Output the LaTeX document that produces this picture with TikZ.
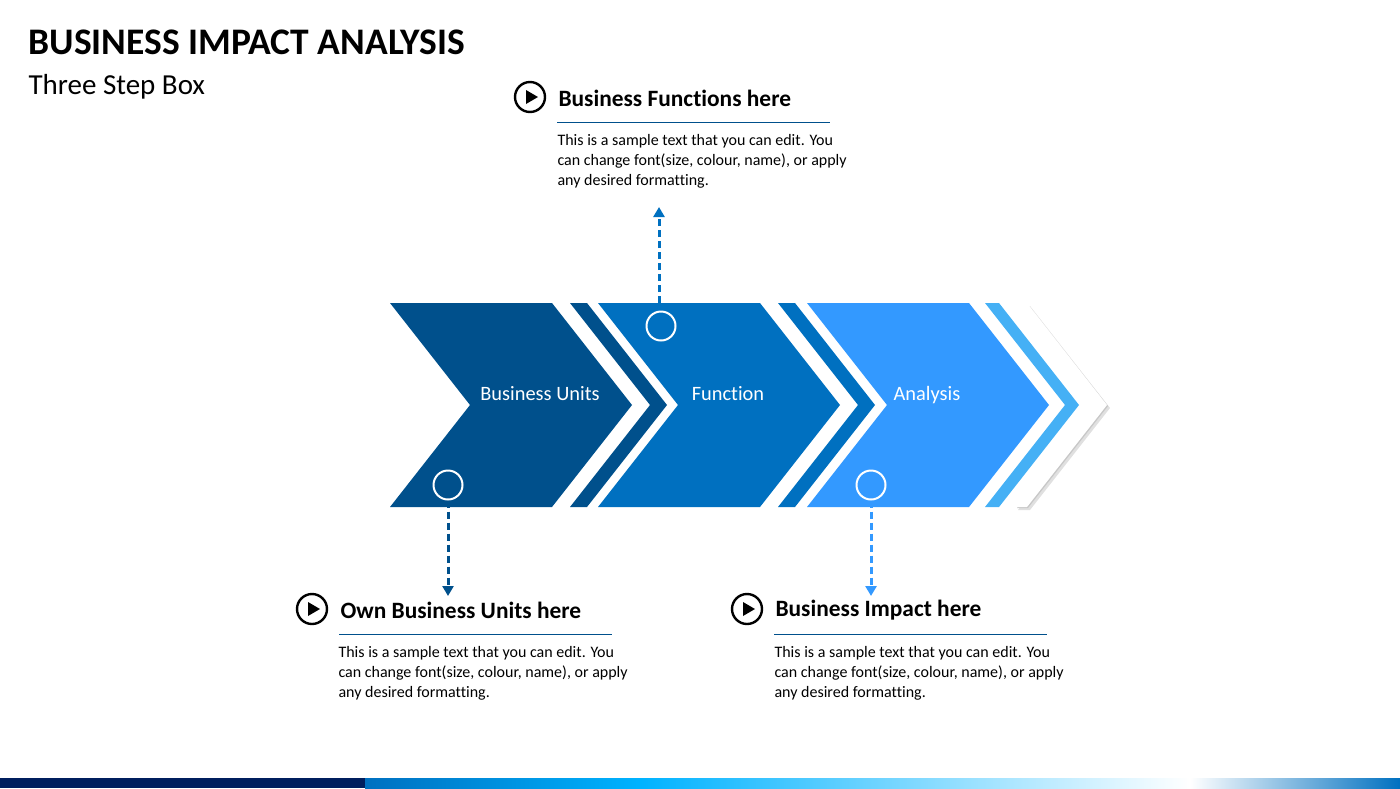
\documentclass[tikz,border=0pt]{standalone}
\usepackage{fontspec}
\setmainfont[RawFeature=-liga]{Carlito}
\usetikzlibrary{arrows.meta}
\definecolor{cA}{HTML}{00508C}
\definecolor{cB}{HTML}{0070C0}
\definecolor{cC}{HTML}{3399FF}
\definecolor{cD}{HTML}{45B0F5}
\definecolor{navy}{HTML}{001E5E}
\tikzset{
  lab/.style={text=white,anchor=base,font=\fontsize{20.4}{22}\selectfont},
  head/.style={anchor=west,font=\bfseries\fontsize{23.4}{26}\selectfont},
  body/.style={anchor=north west,align=left,font=\fontsize{16}{19.8}\selectfont},
  ring/.style={circle,draw=white,line width=2pt,minimum size=29pt,inner sep=0pt},
  conn/.style={dashed,dash pattern=on 7pt off 4pt,line width=3pt,-{Triangle[length=10pt,width=11pt]}},
}
\newcommand{\chev}[3]{\fill[#3] (#1,303)--(#1+162,303)--(#1+242,405)--(#1+162,507)--(#1,507)--(#1+80,405)--cycle;}
\newcommand{\stripe}[3]{\fill[#3] (#1,303)--(#1+#2,303)--(#1+#2+80,405)--(#1+#2,507)--(#1,507)--(#1+80,405)--cycle;}
\newcommand{\playicon}[3]{\node[circle,draw,line width=2.4pt,minimum size=30pt,inner sep=0pt] (#3) at (#1,#2) {};
  \fill (#1-4,#2-7)--(#1+8,#2)--(#1-4,#2+7)--cycle;}
\begin{document}
\begin{tikzpicture}[x=1pt,y=-1pt]
\useasboundingbox (0,0) rectangle (1400,788);
% title
\node[anchor=west,font=\bfseries\fontsize{37.5}{40}\selectfont] (title) at (25,42) {BUSINESS IMPACT ANALYSIS};
\node[anchor=west,font=\fontsize{29}{32}\selectfont] (sub) at (25,87) {Three Step Box};
% shadow arrow
\fill[black!12] (1018,306)--(1030,306)--(1110,408)--(1030,510)--(1018,510)--(1098,408)--cycle;
\fill[black!22] (1017,305)--(1028,305)--(1108,406)--(1028,508)--(1017,508)--(1097,406)--cycle;
\stripe{1012}{15}{white}
\chev{390}{0}{cA}
\stripe{570}{17}{cA}
\chev{598}{0}{cB}
\stripe{778}{17}{cB}
\chev{807}{0}{cC}
\stripe{985}{14}{cD}
\node[lab] (bu) at (540,400) {Business Units};
\node[lab] (fn) at (728,400) {Function};
\node[lab] (an) at (927,400) {Analysis};
\node[ring] (r1) at (448,485) {};
\node[ring] (r2) at (661,326) {};
\node[ring] (r3) at (871,485) {};
\coordinate (e1) at (448,596);
\coordinate (e2) at (659,207);
\coordinate (e3) at (871,596);
\draw[conn,cA] (r1.south) -- (e1);
\draw[conn,cB] (659,303) -- (e2);
\draw[conn,cC] (r3.south) -- (e3);
% text blocks
\playicon{530}{97}{p2}
\node[head] (h2) at (555,98) {Business Functions here};
\draw[cA,line width=0.8pt] (557,122)--(830,122);
\node[body] (b2) at (554,131) {This is a sample text that you can edit. You\\can change font(size, colour, name), or apply\\any desired formatting.};
\playicon{312}{609}{p1}
\node[head] (h1) at (337,610) {Own Business Units here};
\draw[cA,line width=0.8pt] (339,634)--(612,634);
\node[body] (b1) at (335,643) {This is a sample text that you can edit. You\\can change font(size, colour, name), or apply\\any desired formatting.};
\playicon{747}{609}{p3}
\node[head] (h3) at (772,610) {Business Impact here};
\draw[cA,line width=0.8pt] (774,634)--(1047,634);
\node[body] (b3) at (771,643) {This is a sample text that you can edit. You\\can change font(size, colour, name), or apply\\any desired formatting.};
% bottom bar
\fill[navy] (0,778) rectangle (365,788);
\shade[left color=cB,right color=cyan!70!blue] (365,778) rectangle (640,788);
\shade[left color=cyan!70!blue,right color=white] (640,778) rectangle (1190,788);
\shade[left color=white,right color=cB] (1190,778) rectangle (1400,788);
\end{tikzpicture}
\end{document}
